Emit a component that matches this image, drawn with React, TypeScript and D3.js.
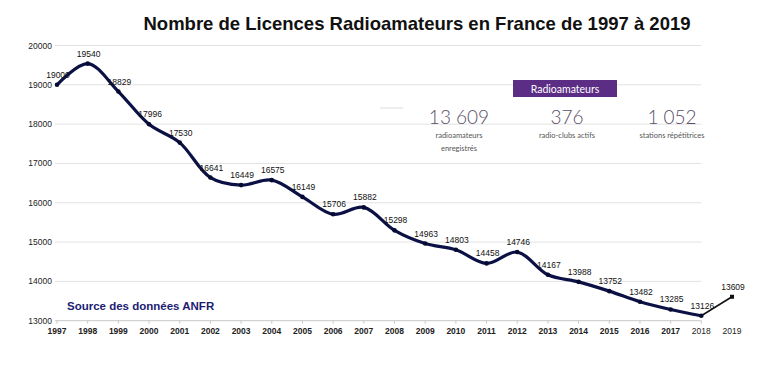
import { useEffect, useRef } from 'react';
import * as d3 from 'd3';

const years = ['1997', '1998', '1999', '2000', '2001', '2002', '2003', '2004', '2005', '2006', '2007', '2008',
  '2009', '2010', '2011', '2012', '2013', '2014', '2015', '2016', '2017', '2018', '2019'];
const licences = [19000, 19540, 18829, 17996, 17530, 16641, 16449, 16575, 16149, 15706, 15882, 15298,
  14963, 14803, 14458, 14746, 14167, 13988, 13752, 13482, 13285, 13126, 13609];
const yTicks = [13000, 14000, 15000, 16000, 17000, 18000, 19000, 20000];

const stats = [
  { value: '13 609', lines: ['radioamateurs', 'enregistrés'] },
  { value: '376', lines: ['radio-clubs actifs'] },
  { value: '1 052', lines: ['stations répétitrices'] },
];

const W = 768;
const H = 370;

const App = () => {
  const svgRef = useRef<SVGSVGElement | null>(null);

  useEffect(() => {
    if (!svgRef.current) return;
    const svg = d3.select(svgRef.current);
    svg.selectAll('*').remove();

    const x = d3.scalePoint<string>().domain(years).range([57, 732]);
    const y = d3.scaleLinear().domain([13000, 20000]).range([320.7, 45.5]);
    const gridEnd = x('2018') as number;

    const font = 'Liberation Sans, Arial, sans-serif';

    // title
    svg.append('text')
      .attr('x', 417)
      .attr('y', 30)
      .attr('text-anchor', 'middle')
      .style('font-family', font)
      .style('font-weight', 'bold')
      .style('font-size', '18.5px')
      .attr('fill', '#111')
      .text('Nombre de Licences Radioamateurs en France de 1997 à 2019');

    // gridlines
    const g = svg.append('g');
    g.selectAll('line.grid')
      .data(yTicks)
      .enter()
      .append('line')
      .attr('x1', 55)
      .attr('x2', gridEnd)
      .attr('y1', d => y(d))
      .attr('y2', d => y(d))
      .attr('stroke', d => (d === 13000 ? '#c8c8c8' : '#e2e2e2'))
      .attr('stroke-width', 1);

    g.selectAll('text.ylab')
      .data(yTicks)
      .enter()
      .append('text')
      .attr('x', 52)
      .attr('y', d => y(d) + 3)
      .attr('text-anchor', 'end')
      .style('font-family', font)
      .style('font-size', '8.5px')
      .attr('fill', '#222')
      .text(d => d);

    // x ticks + labels
    g.selectAll('line.xtick')
      .data(years.slice(0, -1))
      .enter()
      .append('line')
      .attr('x1', d => x(d) as number)
      .attr('x2', d => x(d) as number)
      .attr('y1', y(13000))
      .attr('y2', y(13000) + 3)
      .attr('stroke', '#c8c8c8');

    g.selectAll('text.xlab')
      .data(years)
      .enter()
      .append('text')
      .attr('x', d => x(d) as number)
      .attr('y', 334)
      .attr('text-anchor', 'middle')
      .style('font-family', font)
      .style('font-size', '8.5px')
      .style('font-weight', d => (d === '2018' || d === '2019' ? 'normal' : 'bold'))
      .attr('fill', '#222')
      .text(d => d);

    const pts = years.map((yr, i) => ({ yr, v: licences[i] }));
    const main = pts.slice(0, -1);
    const tail = pts.slice(-2);

    const line = d3.line<{ yr: string; v: number }>()
      .x(d => x(d.yr) as number)
      .y(d => y(d.v))
      .curve(d3.curveCatmullRom.alpha(0.5));

    g.append('path')
      .datum(main)
      .attr('fill', 'none')
      .attr('stroke', '#0b1145')
      .attr('stroke-width', 3.2)
      .attr('d', line);

    g.append('path')
      .datum(tail)
      .attr('fill', 'none')
      .attr('stroke', '#111')
      .attr('stroke-width', 1.5)
      .attr('d', d3.line<{ yr: string; v: number }>().x(d => x(d.yr) as number).y(d => y(d.v)));

    g.selectAll('circle.pt')
      .data(main)
      .enter()
      .append('circle')
      .attr('cx', d => x(d.yr) as number)
      .attr('cy', d => y(d.v))
      .attr('r', 2.3)
      .attr('fill', '#060a30');

    g.append('rect')
      .attr('x', (x('2019') as number) - 2)
      .attr('y', y(13609) - 2)
      .attr('width', 4)
      .attr('height', 4)
      .attr('fill', '#111');

    g.selectAll('text.vlab')
      .data(pts)
      .enter()
      .append('text')
      .attr('x', d => (x(d.yr) as number) + 1)
      .attr('y', d => y(d.v) - 7)
      .attr('text-anchor', 'middle')
      .style('font-family', font)
      .style('font-size', '8.5px')
      .attr('fill', '#111')
      .text(d => d.v);

    // source
    svg.append('text')
      .attr('x', 67)
      .attr('y', 310)
      .style('font-family', font)
      .style('font-weight', 'bold')
      .style('font-size', '11.5px')
      .attr('fill', '#1c1c72')
      .text('Source des données ANFR');

    // inset
    const inset = svg.append('g');
    inset.append('line')
      .attr('x1', 380).attr('x2', 403)
      .attr('y1', 108).attr('y2', 108)
      .attr('stroke', '#ddd');
    inset.append('rect')
      .attr('x', 513)
      .attr('y', 80)
      .attr('width', 104)
      .attr('height', 17)
      .attr('fill', '#5b2d84');
    inset.append('text')
      .attr('x', 565)
      .attr('y', 92.5)
      .attr('text-anchor', 'middle')
      .style('font-family', 'Lato, sans-serif')
      .style('font-size', '10.5px')
      .attr('fill', '#fff')
      .text('Radioamateurs');

    const cx = [459, 567, 672];
    stats.forEach((s, i) => {
      inset.append('text')
        .attr('x', cx[i])
        .attr('y', 124)
        .attr('text-anchor', 'middle')
        .style('font-family', 'Lato, sans-serif')
        .style('font-weight', 300)
        .style('font-size', '19px')
        .attr('fill', '#5a4e66')
        .text(s.value);
      s.lines.forEach((l, j) => {
        inset.append('text')
          .attr('x', cx[i])
          .attr('y', 138 + j * 13)
          .attr('text-anchor', 'middle')
          .style('font-family', 'Lato, sans-serif')
          .style('font-size', '7.5px')
          .attr('fill', '#555')
          .text(l);
      });
    });
  }, []);

  return (
    <svg
      ref={svgRef}
      width={W}
      height={H}
      style={{ position: 'absolute', left: 0, top: 0, background: '#fff' }}
    />
  );
};

export default App;
